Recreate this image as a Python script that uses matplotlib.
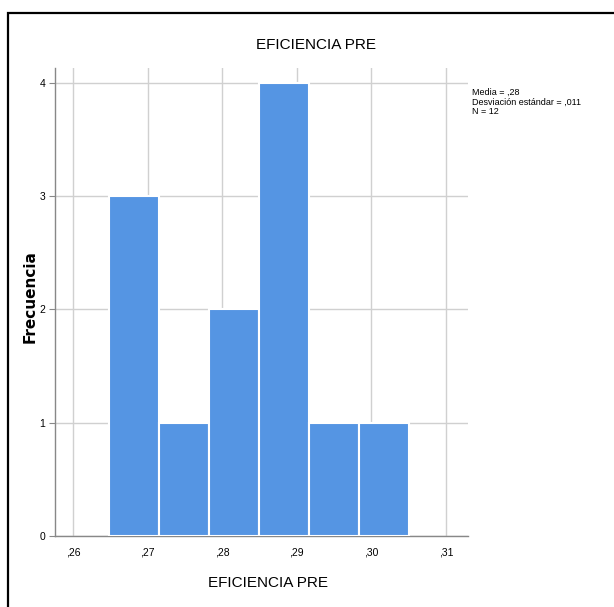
import matplotlib
matplotlib.use("Agg")
import matplotlib.pyplot as plt
from matplotlib.patches import Rectangle
import numpy as np

# Data
bin_edges = [0.2648, 0.2715, 0.2782, 0.2849, 0.2916, 0.2983, 0.3050]
counts = [3, 1, 2, 4, 1, 1]
x_ticks = [0.26, 0.27, 0.28, 0.29, 0.30, 0.31]
x_tick_labels = [",26", ",27", ",28", ",29", ",30", ",31"]
y_ticks = [0, 1, 2, 3, 4]
title = "EFICIENCIA PRE"
xlabel = "EFICIENCIA PRE"
ylabel = "Frecuencia"
stats_lines = ["Media = ,28", "Desviación estándar = ,011", "N = 12"]

W, H = 614, 607
fig = plt.figure(figsize=(W / 100, H / 100), dpi=100)
narrow = ["Liberation Sans Narrow", "Liberation Sans", "DejaVu Sans"]

def px(x0, y0, x1, y1):
    return [x0 / W, 1 - y1 / H, (x1 - x0) / W, (y1 - y0) / H]

ax = fig.add_axes(px(55, 68, 468, 536))
centers = [(a + b) / 2 for a, b in zip(bin_edges[:-1], bin_edges[1:])]
ax.hist(centers, bins=bin_edges, weights=counts, color="#5595e3",
        edgecolor="white", linewidth=1.5, zorder=3)

ax.set_xlim(0.2576, 0.31295)
ax.set_ylim(0, 4.13)
ax.set_xticks(x_ticks)
ax.set_xticklabels(x_tick_labels, family=narrow, fontsize=7.5)
ax.set_yticks(y_ticks)
ax.set_yticklabels([str(v) for v in y_ticks], family=narrow, fontsize=7.5)
ax.tick_params(axis="x", length=0, pad=8)
ax.tick_params(axis="y", length=4, width=0.8, color="#888888", pad=3)
ax.grid(True, color="#d0d0d0", linewidth=1.0, zorder=0)
for s in ["top", "right"]:
    ax.spines[s].set_visible(False)
for s in ["left", "bottom"]:
    ax.spines[s].set_color("#888888")
    ax.spines[s].set_linewidth(1.0)

fig.text(316 / W, 1 - 45 / H, title, family=narrow, fontsize=11,
         ha="center", va="center")
fig.text(268 / W, 1 - 583 / H, xlabel, family=narrow, fontsize=11,
         ha="center", va="center")
fig.text(30 / W, 1 - 297 / H, ylabel, family="DejaVu Sans", fontsize=11,
         fontweight="bold", rotation=90, ha="center", va="center")

for i, line in enumerate(stats_lines):
    fig.text(472 / W, 1 - (92 + i * 10) / H, line, family=narrow,
             fontsize=6.5, ha="left", va="center")

frame = Rectangle((8 / W, -0.1), 1.2, 1 - 13 / H + 0.1, transform=fig.transFigure,
                  fill=False, edgecolor="black", linewidth=1.6)
fig.patches.append(frame)

fig.savefig("out.png", dpi=100)
